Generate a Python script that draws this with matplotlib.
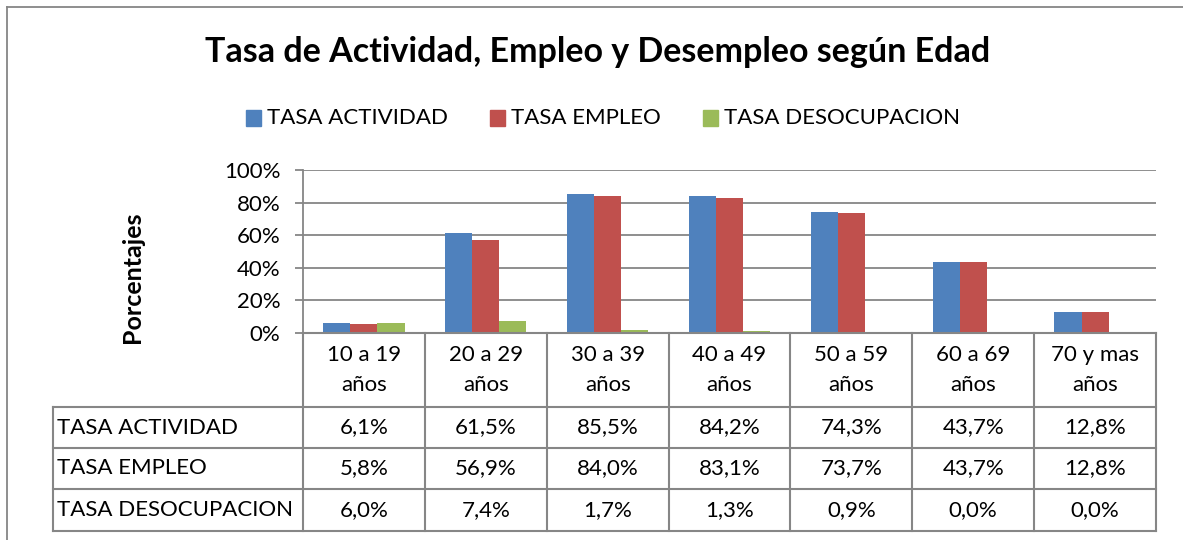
import matplotlib
matplotlib.use('Agg')
import matplotlib.pyplot as plt
import matplotlib.transforms as mtransforms
from matplotlib.lines import Line2D
from matplotlib.patches import Rectangle

plt.rcParams['font.family'] = ['Lato', 'DejaVu Sans']

# data
categorias = ['10 a 19\naños', '20 a 29\naños', '30 a 39\naños', '40 a 49\naños',
              '50 a 59\naños', '60 a 69\naños', '70 y mas\naños']
series = ['TASA ACTIVIDAD', 'TASA EMPLEO', 'TASA DESOCUPACION']
tasa_actividad = [6.1, 61.5, 85.5, 84.2, 74.3, 43.7, 12.8]
tasa_empleo = [5.8, 56.9, 84.0, 83.1, 73.7, 43.7, 12.8]
tasa_desocupacion = [6.0, 7.4, 1.7, 1.3, 0.9, 0.0, 0.0]
colores = ['#4F81BD', '#C0504D', '#9BBB59']
y_ticks = [0, 20, 40, 60, 80, 100]

W, H = 1183, 540
GRIS = '#868686'
FS = 16
fig = plt.figure(figsize=(W / 100, H / 100), dpi=100)


def fx(px):
    return px / W


def fy(py):
    return 1 - py / H


# chart border (cropped on the right/bottom in the reference)
fig.add_artist(Line2D([fx(7), fx(7)], [fy(7), 0], color=GRIS, lw=1.3))
fig.add_artist(Line2D([fx(7), 1], [fy(7), fy(7)], color=GRIS, lw=1.3))

left, right, top, bottom = 303, 1156, 170, 333
ax = fig.add_axes([fx(left), fy(bottom), fx(right - left), (bottom - top) / H])

valores = [tasa_actividad, tasa_empleo, tasa_desocupacion]
n = len(categorias)
w = 1 / 4.5  # gap width 150%
for i, (vals, col) in enumerate(zip(valores, colores)):
    ax.bar([k + (i - 1) * w for k in range(n)], vals, width=w, color=col, zorder=3)

ax.set_xlim(-0.5, n - 0.5)
ax.set_ylim(0, 100)
ax.set_yticks(y_ticks)
ax.set_yticklabels([f'{t}%' for t in y_ticks], fontsize=FS)
ax.yaxis.grid(True, color=GRIS, lw=1.3)
ax.set_xticks([])
ax.tick_params(axis='y', length=5.8, color=GRIS, width=1.3, pad=10.5)
for s in ['top', 'right', 'bottom']:
    ax.spines[s].set_visible(False)
ax.spines['left'].set_color(GRIS)
ax.spines['left'].set_linewidth(1.3)

fig.text(fx(133), fy(277), 'Porcentajes', rotation=90, fontsize=18,
         fontweight='bold', ha='center', va='center')

# title and legend
fig.text(fx(598), fy(52), 'Tasa de Actividad, Empleo y Desempleo según Edad',
         fontsize=24.5, fontweight='bold', ha='center', va='center')
leg_x = [246, 490, 703]
for xm, nombre, col in zip(leg_x, series, colores):
    fig.add_artist(Rectangle((fx(xm), fy(126)), fx(15), 16 / H, color=col))
    fig.text(fx(xm + 21), fy(118), nombre, fontsize=FS, ha='left', va='center')

# data table under the axis
tr = mtransforms.blended_transform_factory(ax.transData, fig.transFigure)
filas = [333, 407, 448, 489, 531]
tab_left = 53
kw = dict(color=GRIS, lw=1.5, clip_on=False)
for k in range(n + 1):
    fig.add_artist(Line2D([k - 0.5, k - 0.5], [fy(filas[0]), fy(filas[-1])], transform=tr, **kw))
fig.add_artist(Line2D([-0.5, n - 0.5], [fy(filas[0]), fy(filas[0])], transform=tr, **kw))
for yy in filas[1:]:
    fig.add_artist(Line2D([fx(tab_left), fx(right)], [fy(yy), fy(yy)], **kw))
fig.add_artist(Line2D([fx(tab_left), fx(tab_left)], [fy(filas[1]), fy(filas[-1])], **kw))

for k, cat in enumerate(categorias):
    for j, linea in enumerate(cat.split('\n')):
        fig.text(k, fy(355 + 30 * j), linea, transform=tr, fontsize=FS,
                 ha='center', va='center')
for r, (nombre, vals) in enumerate(zip(series, valores)):
    yc = fy((filas[r + 1] + filas[r + 2]) / 2)
    fig.text(fx(tab_left + 4), yc, nombre, fontsize=FS, ha='left', va='center')
    for k, v in enumerate(vals):
        fig.text(k, yc, f'{v:.1f}%'.replace('.', ','), transform=tr, fontsize=FS,
                 ha='center', va='center')

fig.savefig('out.png', dpi=100)
